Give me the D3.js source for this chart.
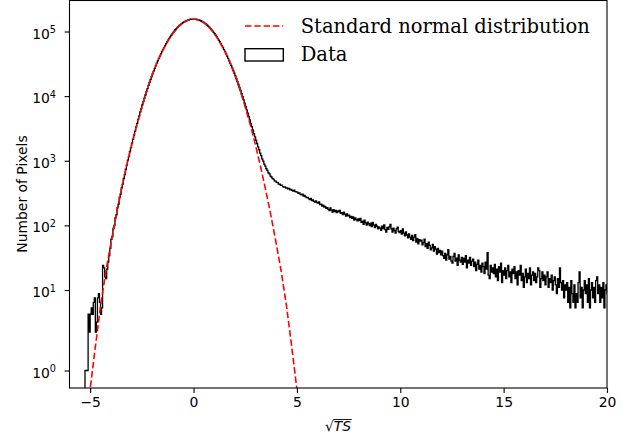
<!DOCTYPE html>
<html>
<head>
<meta charset="utf-8">
<script src="https://cdn.jsdelivr.net/npm/d3@7"></script>
<style>
  body { margin: 0; background: #fff; }
  svg { display: block; }
  .tick text { font-family: "DejaVu Sans", sans-serif; font-size: 13.9px; fill: #000; }
</style>
</head>
<body>
<div id="chart"></div>
<script>
// histogram of sqrt(TS): bins of width 0.05 starting at -5.25
const binStart = -5.25;
const binWidth = 0.05;

// bins -5.25 .. -4.05
const countsLeftTail = [1, 1, 1, 5, 3, 5, 6, 5, 7, 8, 3, 4, 8, 9, 7, 5, 6, 24, 22, 16, 15, 21, 27, 34];

// bins -4.05 .. 0
const countsLeftCore = [
  44, 61, 67, 90, 99, 131, 146, 188, 214, 270, 305, 381, 436, 531, 612, 739, 853, 1021, 1170, 1392,
  1598, 1880, 2151, 2515, 2870, 3334, 3795, 4376, 4960, 5690, 6412, 7320, 8221, 9330, 10420, 11770,
  13090, 14700, 16280, 18170, 20020, 22240, 24410, 26950, 29440, 32330, 35190, 38420, 41600, 45170,
  48710, 52620, 56450, 60670, 64790, 69270, 73600, 78290, 82780, 87610, 92190, 97050, 101630, 106450,
  110940, 115610, 119880, 124290, 128260, 132310, 135860, 139440, 142470, 145490, 147910, 150290,
  152040, 153710, 154730, 155640, 155890
];

// bins 0 .. 2.5
const countsRightCore = [
  155930, 155510, 154860, 153580, 152170, 150160, 148040, 145360, 142600, 139310,
  135990, 132180, 128390, 124160, 120010, 115480, 111070, 106320, 101760, 96920,
  92320, 87480, 82910, 78160, 73730, 69150, 64910, 60550, 56570, 52500,
  48830, 45060, 41720, 38300, 35300, 32220, 29990, 27390, 24950, 22680,
  20570, 18610, 16810, 15140, 13620, 12220, 10950, 9785, 8735, 7780
];

// bins 2.5 .. 20.1
const countsRightTail = [
  6916, 6147, 5455, 4837, 4285, 3795, 3360, 2976, 2637, 2339,
  2077, 1851, 1640, 1480, 1315, 1197, 1070, 985, 889, 828,
  752, 709, 652, 625, 580, 561, 528, 519, 489, 484,
  462, 458, 436, 433, 415, 418, 399, 392, 394, 378,
  381, 366, 372, 355, 361, 348, 340, 351, 333, 329,
  326, 312, 319, 301, 296, 305, 284, 290, 276, 268,
  272, 259, 250, 262, 241, 247, 236, 229, 240, 226,
  221, 230, 209, 214, 198, 205, 191, 196, 184, 188,
  177, 169, 186, 172, 160, 175, 164, 170, 158, 167,
  162, 171, 153, 158, 147, 160, 149, 139, 151, 141,
  144, 132, 138, 128, 135, 121, 130, 124, 117, 126,
  119, 128, 111, 116, 104, 120, 109, 101, 112, 106,
  99, 108, 96, 111, 101, 92, 104, 97, 88, 95,
  91, 84, 97, 89, 102, 86, 79, 93, 87, 95,
  104, 88, 79, 91, 83, 76, 88, 94, 80, 77,
  83, 73, 88, 76, 69, 79, 71, 64, 74, 66,
  61, 70, 58, 66, 72, 55, 63, 52, 60, 57,
  59, 50, 54, 61, 47, 52, 44, 55, 49, 42,
  45, 51, 40, 47, 43, 36, 44, 38, 41, 35,
  40, 34, 31, 37, 29, 35, 42, 30, 33, 28,
  26, 33, 37, 28, 31, 24, 35, 29, 27, 32,
  25, 31, 27, 34, 22, 29, 26, 32, 24, 28,
  30, 23, 27, 20, 25, 29, 21, 24, 19, 26,
  23, 18, 27, 21, 38, 17, 15, 24, 19, 22,
  18, 25, 16, 21, 14, 23, 19, 26, 13, 20,
  17, 22, 15, 20, 24, 16, 19, 13, 21, 18,
  23, 15, 19, 12, 20, 17, 24, 14, 18, 11,
  16, 21, 13, 18, 15, 22, 12, 17, 19, 14,
  18, 13, 16, 22, 20, 11, 15, 19, 14, 17,
  12, 16, 19, 11, 15, 13, 17, 10, 14, 16,
  12, 9, 15, 11, 22, 13, 10, 14, 8, 12,
  10, 13, 7, 11, 6, 14, 9, 7, 12, 6,
  9, 7, 13, 19, 8, 11, 6, 10, 14, 9,
  12, 7, 15, 6, 10, 13, 8, 11, 7, 14,
  16, 9, 12, 7, 11, 8, 13, 6, 10, 12,
  9, 11
];

const counts = [...countsLeftTail, ...countsLeftCore, ...countsRightCore, ...countsRightTail];

// standard normal curve scaled to the histogram
const normalX = [-5.25, -5, -4.75, -4.5, -4.25, -4, -3.75, -3.5, -3.25, -3, -2.75, -2.5,
  -2.25, -2, -1.75, -1.5, -1.25, -1, -0.75, -0.5, -0.25, 0,
  0.25, 0.5, 0.75, 1, 1.25, 1.5, 1.75, 2, 2.25, 2.5, 2.75, 3,
  3.25, 3.5, 3.75, 4, 4.25, 4.5, 4.75, 5, 5.25];
const normalY = [0.161, 0.581, 1.968, 6.25, 18.67, 52.33, 137.9, 341.3, 793.4, 1733, 3556, 6854,
  12411, 21112, 33738, 50646, 71422, 94619, 117755, 137670, 151200, 156000,
  151200, 137670, 117755, 94619, 71422, 50646, 33738, 21112, 12411, 6854, 3556, 1733,
  793.4, 341.3, 137.9, 52.33, 18.67, 6.25, 1.968, 0.581, 0.161];

const xTicks = [-5, 0, 5, 10, 15, 20];
const yTicks = [1, 10, 100, 1000, 10000, 100000];
const legendLabels = ["Standard normal distribution", "Data"];

const width = 634, height = 435;
const plotLeft = 69.5, plotRight = 607, plotTop = 0.5, plotBottom = 388;

const svg = d3.select("#chart").append("svg")
  .attr("width", width)
  .attr("height", height);

const x = d3.scaleLinear().domain([-6, 20]).range([plotLeft, plotRight]);
// y axis: log, the lowest decade is stretched in the reference
const y = d3.scaleLog().domain([0.6, 1, 10, 3.02e5]).range([plotBottom, 370.5, 290, plotTop]);

svg.append("clipPath").attr("id", "plotclip")
  .append("rect")
  .attr("x", plotLeft).attr("y", plotTop)
  .attr("width", plotRight - plotLeft).attr("height", plotBottom - plotTop);

// step outline of the histogram
const pts = [];
counts.forEach((c, i) => {
  const x0 = binStart + i * binWidth;
  pts.push([x0, c], [x0 + binWidth, c]);
});
const stepLine = d3.line()
  .x(d => x(d[0]))
  .y(d => d[1] > 0 ? y(d[1]) : plotBottom + 20);
const histPts = [[binStart, 0], ...pts, [binStart + counts.length * binWidth, 0]];

svg.append("path")
  .attr("clip-path", "url(#plotclip)")
  .attr("d", stepLine(histPts))
  .attr("fill", "none")
  .attr("stroke", "#000")
  .attr("stroke-width", 1.3);

svg.append("path")
  .attr("clip-path", "url(#plotclip)")
  .attr("d", d3.line().x((d, i) => x(normalX[i])).y(d => y(d))(normalY))
  .attr("fill", "none")
  .attr("stroke", "#ff0000")
  .attr("stroke-width", 1.6)
  .attr("stroke-dasharray", "6.5,2.8");

// axes
const xAxis = svg.append("g")
  .attr("transform", `translate(0,${plotBottom})`)
  .call(d3.axisBottom(x).tickValues(xTicks).tickSize(4.9).tickPadding(4.4)
    .tickFormat(d => d < 0 ? "\u2212" + Math.abs(d) : d));
xAxis.select(".domain").remove();

const yAxis = svg.append("g")
  .attr("transform", `translate(${plotLeft},0)`)
  .call(d3.axisLeft(y).tickValues(yTicks).tickSize(4.9).tickFormat(""));
yAxis.select(".domain").remove();
yAxis.selectAll(".tick text").remove();
yAxis.selectAll(".tick").append("text")
  .attr("x", -13.5)
  .attr("dy", 6.5)
  .attr("text-anchor", "end")
  .each(function(d) {
    const t = d3.select(this);
    t.append("tspan").text("10");
    t.append("tspan").attr("dy", -5.5).style("font-size", "9.7px").text(Math.round(Math.log10(d)));
  });
svg.selectAll(".tick line").attr("stroke", "#000").attr("stroke-width", 1.1);

// frame
svg.append("rect")
  .attr("x", plotLeft).attr("y", plotTop)
  .attr("width", plotRight - plotLeft).attr("height", plotBottom - plotTop)
  .attr("fill", "none")
  .attr("stroke", "#000")
  .attr("stroke-width", 1.1);

// axis labels
svg.append("text")
  .attr("transform", `translate(26.5,194) rotate(-90)`)
  .attr("text-anchor", "middle")
  .style("font-family", "DejaVu Sans, sans-serif")
  .style("font-size", "13.9px")
  .text("Number of Pixels");

const xl = svg.append("text")
  .attr("x", 338).attr("y", 431)
  .attr("text-anchor", "middle")
  .style("font-family", "DejaVu Sans, sans-serif")
  .style("font-size", "13.9px");
xl.append("tspan").text("\u221A");
xl.append("tspan").style("font-style", "italic").text("TS");
const full = xl.node().getBBox();
const rootW = xl.select("tspan").node().getComputedTextLength();
svg.append("line")
  .attr("x1", full.x + rootW - 0.5).attr("x2", full.x + full.width + 0.5)
  .attr("y1", 419.5).attr("y2", 419.5)
  .attr("stroke", "#000").attr("stroke-width", 0.9);

// legend
const lg = svg.append("g");
lg.append("line")
  .attr("x1", 245).attr("x2", 283.3).attr("y1", 26).attr("y2", 26)
  .attr("stroke", "#ff0000").attr("stroke-width", 1.6)
  .attr("stroke-dasharray", "6.5,2.8");
lg.append("rect")
  .attr("x", 245).attr("y", 48.7).attr("width", 38.3).attr("height", 12.3)
  .attr("fill", "#fff").attr("stroke", "#000").attr("stroke-width", 1.4);
lg.selectAll("text.lab").data(legendLabels).enter().append("text")
  .attr("class", "lab")
  .attr("x", 300.7)
  .attr("y", (d, i) => 32.8 + i * 28.4)
  .style("font-family", "DejaVu Serif, serif")
  .style("font-size", "19.5px")
  .text(d => d);
</script>
</body>
</html>
